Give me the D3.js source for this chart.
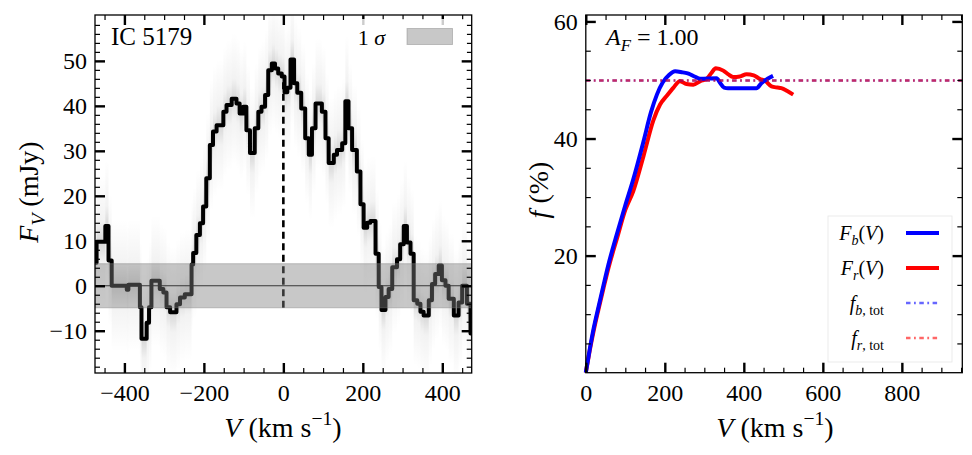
<!DOCTYPE html>
<html lang="en">
<head>
<meta charset="UTF-8">
<title>IC 5179</title>
<script src="https://d3js.org/d3.v7.min.js"></script>
<style>
  body { margin: 0; background: #fff; }
</style>
</head>
<body>
<script>
// ---- data ----
// left panel: step spectrum, left edge of each channel (km/s) and flux (mJy)
var specVel = [-474, -470, -448, -440, -432, -394, -390, -361, -357, -344, -338, -332, -311, -302,
  -294, -285, -269, -260, -248, -231, -227, -219, -210, -202, -194, -185, -177, -168, -151, -143,
  -130, -118, -110, -101, -93, -84, -72, -63, -55, -46, -38, -29, -21, -13, -4, 3, 10, 18, 27,
  35, 45, 55, 64, 72, 81, 97, 106, 114, 127, 135, 148, 156, 164, 173, 185, 194, 202, 211, 219,
  232, 240, 247, 257, 265, 274, 286, 294, 303, 311, 320, 328, 337, 345, 353, 366, 374, 382, 391,
  399, 408, 416, 429, 441, 450, 462, 471];
var specFlux = [5.1, 9.8, 13.3, 5.6, 0.0, -0.9, 0.2, -4.8, -11.8, -8.2, -4.8, 1.1, -0.7, -1.5,
  -4.8, -5.9, -4.1, -2.6, -1.9, 4.7, 7.3, 11.3, 13.9, 17.6, 23.9, 31.3, 34.3, 35.7, 38.7, 40.2,
  41.6, 40.5, 38.3, 39.8, 34.6, 29.5, 35.0, 38.7, 39.8, 42.4, 47.9, 49.4, 48.3, 47.2, 46.5, 43.0,
  44.0, 50.3, 45.0, 42.9, 39.4, 32.8, 29.1, 35.0, 40.5, 38.7, 32.8, 27.3, 29.1, 30.2, 31.7, 41.0,
  35.0, 30.2, 25.4, 18.1, 12.9, 14.0, 14.4, 7.1, -0.3, -5.4, -2.5, -0.7, 4.1, 5.9, 9.2, 13.3, 9.6,
  7.1, -3.2, -4.0, -5.8, -6.6, -3.2, 0.4, 2.6, 4.5, 1.2, 0.0, -2.9, -6.6, -3.7, 0.0, -4.0, -10.6];
var specEnd = 476;
var sigmaNoise = 4.9;
var galaxy = 'IC 5179';

// right panel: cumulative fractions
var velB = [0, 10, 20, 32, 45, 57, 80, 100, 120, 146, 165, 180, 195, 210, 226, 245, 260, 275, 290,
  331, 340, 350, 360, 432, 445, 460, 474];
var fracB = [0, 4.0, 7.6, 11.2, 15.0, 18.4, 24.0, 28.6, 33.0, 39.5, 44.5, 47.5, 49.6, 50.8, 51.5,
  51.3, 51.1, 50.6, 50.2, 50.3, 49.5, 48.7, 48.6, 48.6, 49.5, 50.2, 50.7];
var velR = [0, 10, 20, 32, 45, 57, 80, 100, 120, 146, 171, 188, 205, 222, 238, 255, 272, 290, 306,
  318, 329, 348, 360, 373, 390, 407, 425, 440, 455, 470, 485, 495, 510, 525];
var fracR = [0, 3.8, 7.2, 10.8, 14.5, 17.8, 23.2, 27.8, 31.0, 37.0, 43.1, 45.8, 47.3, 48.7, 49.8,
  49.3, 49.2, 49.8, 50.2, 51.2, 52.0, 51.6, 51.0, 50.5, 50.6, 51.0, 50.8, 50.2, 49.8, 48.9, 48.7,
  48.6, 48.1, 47.5];
var fTotB = 49.9;
var fTotR = 49.9;
var asymText = '1.00';

var serif = '"Liberation Serif", "DejaVu Serif", serif';
var W = 972, H = 455;

var svg = d3.select('body').append('svg').attr('width', W).attr('height', H);
var defs = svg.append('defs');

var grad = defs.append('linearGradient').attr('id', 'streak')
  .attr('x1', 0).attr('y1', 0).attr('x2', 0).attr('y2', 1);
grad.append('stop').attr('offset', '0%').attr('stop-color', '#000').attr('stop-opacity', 0);
grad.append('stop').attr('offset', '35%').attr('stop-color', '#000').attr('stop-opacity', 0.05);
grad.append('stop').attr('offset', '50%').attr('stop-color', '#000').attr('stop-opacity', 0.16);
grad.append('stop').attr('offset', '65%').attr('stop-color', '#000').attr('stop-opacity', 0.05);
grad.append('stop').attr('offset', '100%').attr('stop-color', '#000').attr('stop-opacity', 0);

// text with italic / sub / super pieces
function mathText(g, x, y, parts, size, anchor) {
  var t = g.append('text').attr('x', x).attr('y', y)
    .attr('font-family', serif).attr('font-size', size)
    .attr('text-anchor', anchor || 'start').attr('fill', '#000');
  var off = 0;
  parts.forEach(function(p) {
    var s = t.append('tspan').text(p.t);
    var o = p.sub ? 0.25 * size : (p.sup ? -0.42 * size : 0);
    if (o !== off) { s.attr('dy', o - off); off = o; }
    if (p.i) s.attr('font-style', 'italic');
    if (p.sub || p.sup) s.attr('font-size', size * 0.7);
  });
  return t;
}

function drawAxes(g, x, y, o) {
  var x0 = x.range()[0], x1 = x.range()[1], y0 = y.range()[1], y1 = y.range()[0];
  function clean(a) { a.select('.domain').remove(); }
  g.append('g').attr('transform', 'translate(0,' + y1 + ')')
    .call(d3.axisBottom(x).tickValues(o.xMajor).tickSizeInner(-10).tickSizeOuter(0).tickPadding(11))
    .call(clean).attr('class', 'lab');
  g.append('g').attr('transform', 'translate(0,' + y1 + ')')
    .call(d3.axisBottom(x).tickValues(o.xMinor).tickSize(-5).tickFormat('')).call(clean).attr('class', 'minor');
  g.append('g').attr('transform', 'translate(0,' + y0 + ')')
    .call(d3.axisTop(x).tickValues(o.xMajor).tickSize(-10).tickFormat('')).call(clean);
  g.append('g').attr('transform', 'translate(0,' + y0 + ')')
    .call(d3.axisTop(x).tickValues(o.xMinor).tickSize(-5).tickFormat('')).call(clean).attr('class', 'minor');
  g.append('g').attr('transform', 'translate(' + x0 + ',0)')
    .call(d3.axisLeft(y).tickValues(o.yMajor).tickSizeInner(-10).tickSizeOuter(0).tickPadding(8))
    .call(clean).attr('class', 'lab');
  g.append('g').attr('transform', 'translate(' + x0 + ',0)')
    .call(d3.axisLeft(y).tickValues(o.yMinor).tickSize(-5).tickFormat('')).call(clean).attr('class', 'minor');
  g.append('g').attr('transform', 'translate(' + x1 + ',0)')
    .call(d3.axisRight(y).tickValues(o.yMajor).tickSize(-10).tickFormat('')).call(clean);
  g.append('g').attr('transform', 'translate(' + x1 + ',0)')
    .call(d3.axisRight(y).tickValues(o.yMinor).tickSize(-5).tickFormat('')).call(clean).attr('class', 'minor');
  g.selectAll('.tick line').attr('stroke', '#000').attr('stroke-width', 2.4);
  g.selectAll('.minor .tick line').attr('stroke-width', 1.2);
  g.selectAll('.lab text').attr('font-family', serif).attr('font-size', 24).attr('fill', '#000');
  g.append('rect').attr('x', x0).attr('y', y0).attr('width', x1 - x0).attr('height', y1 - y0)
    .attr('fill', 'none').attr('stroke', '#000').attr('stroke-width', 1.3);
}

// ================= left panel =================
var xL = d3.scaleLinear().domain([-474, 474]).range([95, 471.7]);
var yL = d3.scaleLinear().domain([-19.4, 60.2]).range([373, 15]);
var gL = svg.append('g');

defs.append('clipPath').attr('id', 'clipL').append('rect')
  .attr('x', 95).attr('y', 15).attr('width', 376.7).attr('height', 358);

var steps = specVel.map(function(v, i) {
  return { v0: v, v1: i < specVel.length - 1 ? specVel[i + 1] : specEnd, f: specFlux[i] };
});

var plotL = gL.append('g').attr('clip-path', 'url(#clipL)');

// faint realisations around each channel
plotL.selectAll('rect.streak').data(steps).enter().append('rect')
  .attr('class', 'streak')
  .attr('x', function(d) { return xL(d.v0); })
  .attr('width', function(d) { return xL(d.v1) - xL(d.v0); })
  .attr('y', function(d) { return yL(d.f + 3 * sigmaNoise); })
  .attr('height', function(d) { return yL(d.f - 3 * sigmaNoise) - yL(d.f + 3 * sigmaNoise); })
  .attr('fill', 'url(#streak)');

// zero line
plotL.append('line').attr('x1', xL(-474)).attr('x2', xL(474))
  .attr('y1', yL(0)).attr('y2', yL(0)).attr('stroke', '#000').attr('stroke-width', 1.2);

// dashed line at V = 0 up to the spectrum
var iZero = d3.bisectRight(specVel, 0) - 1;
plotL.append('line').attr('x1', xL(0)).attr('x2', xL(0))
  .attr('y1', yL(-sigmaNoise)).attr('y2', yL(specFlux[iZero]))
  .attr('stroke', '#000').attr('stroke-width', 2.6).attr('stroke-dasharray', '7,4.5');

var stepPts = specVel.map(function(v, i) { return [v, specFlux[i]]; });
stepPts.push([specEnd, specFlux[specFlux.length - 1]]);
plotL.append('path').datum(stepPts)
  .attr('d', d3.line().x(function(d) { return xL(d[0]); }).y(function(d) { return yL(d[1]); })
    .curve(d3.curveStepAfter))
  .attr('fill', 'none').attr('stroke', '#000').attr('stroke-width', 4)
  .attr('stroke-linejoin', 'round');

// 1 sigma band on top
plotL.append('rect').attr('x', xL(-474)).attr('width', xL(474) - xL(-474))
  .attr('y', yL(sigmaNoise)).attr('height', yL(-sigmaNoise) - yL(sigmaNoise))
  .attr('fill', '#808080').attr('fill-opacity', 0.43)
  .attr('stroke', '#808080').attr('stroke-opacity', 0.43).attr('stroke-width', 1);

drawAxes(gL, xL, yL, {
  xMajor: [-400, -200, 0, 200, 400],
  xMinor: d3.range(-450, 451, 50).filter(function(v) { return v % 200 !== 0; }),
  yMajor: [-10, 0, 10, 20, 30, 40, 50],
  yMinor: d3.range(-18, 61, 2).filter(function(v) { return v % 10 !== 0; })
});

// legend
gL.append('rect').attr('x', 350).attr('y', 19).attr('width', 117).attr('height', 38)
  .attr('fill', '#fff').attr('fill-opacity', 0.8);
gL.append('rect').attr('x', 407).attr('y', 28.5).attr('width', 45.5).attr('height', 16)
  .attr('fill', '#808080').attr('fill-opacity', 0.43)
  .attr('stroke', '#808080').attr('stroke-opacity', 0.43).attr('stroke-width', 1);
mathText(gL, 385, 45, [{ t: '1 ' }, { t: 'σ', i: true }], 22, 'end');

gL.append('text').attr('x', 111).attr('y', 45).attr('font-family', serif)
  .attr('font-size', 25).text(galaxy);

mathText(gL, 283, 437, [{ t: 'V', i: true }, { t: ' (km s' }, { t: '−1', sup: true }, { t: ')' }], 28, 'middle');
mathText(gL, 0, 0, [{ t: 'F', i: true }, { t: 'V', i: true, sub: true }, { t: ' (mJy)' }], 28, 'middle')
  .attr('transform', 'translate(38,192) rotate(-90)');

// ================= right panel =================
var xR = d3.scaleLinear().domain([0, 953]).range([585.8, 962.3]);
var yR = d3.scaleLinear().domain([0, 61.1]).range([372.7, 15]);
var gR = svg.append('g');

var lineR = d3.line().x(function(d) { return xR(d[0]); }).y(function(d) { return yR(d[1]); })
  .curve(d3.curveMonotoneX);

gR.append('path').datum(velR.map(function(v, i) { return [v, fracR[i]]; }))
  .attr('d', lineR).attr('fill', 'none').attr('stroke', '#ff0000').attr('stroke-width', 4)
  .attr('stroke-linejoin', 'round');
gR.append('path').datum(velB.map(function(v, i) { return [v, fracB[i]]; }))
  .attr('d', lineR).attr('fill', 'none').attr('stroke', '#0000ff').attr('stroke-width', 4)
  .attr('stroke-linejoin', 'round');

var dashDot = '4.5,3.5,1.8,3.5';
[[fTotB, '#0000ff'], [fTotR, '#ff0000']].forEach(function(d) {
  gR.append('line').attr('x1', xR(0)).attr('x2', xR(953))
    .attr('y1', yR(d[0])).attr('y2', yR(d[0]))
    .attr('stroke', d[1]).attr('stroke-opacity', 0.6).attr('stroke-width', 2.6)
    .attr('stroke-dasharray', dashDot);
});

drawAxes(gR, xR, yR, {
  xMajor: [0, 200, 400, 600, 800],
  xMinor: d3.range(50, 951, 50).filter(function(v) { return v % 200 !== 0; }),
  yMajor: [20, 40, 60],
  yMinor: d3.range(5, 61, 5).filter(function(v) { return v % 20 !== 0; })
});

mathText(gR, 606, 45, [{ t: 'A', i: true }, { t: 'F', i: true, sub: true }, { t: ' = ' + asymText }], 24, 'start');

// legend
gR.append('rect').attr('x', 828).attr('y', 216).attr('width', 124).attr('height', 146)
  .attr('fill', '#fff').attr('fill-opacity', 0.8).attr('stroke', '#e6e6e6').attr('stroke-width', 0.8);
var legItems = [
  { parts: [{ t: 'F', i: true }, { t: 'b', i: true, sub: true }, { t: '(' }, { t: 'V', i: true }, { t: ')' }],
    color: '#0000ff', dash: null, y: 233, size: 20 },
  { parts: [{ t: 'F', i: true }, { t: 'r', i: true, sub: true }, { t: '(' }, { t: 'V', i: true }, { t: ')' }],
    color: '#ff0000', dash: null, y: 268, size: 20 },
  { parts: [{ t: 'f', i: true }, { t: 'b', i: true, sub: true }, { t: ', tot', sub: true }],
    color: '#0000ff', dash: dashDot, y: 303, size: 20 },
  { parts: [{ t: 'f', i: true }, { t: 'r', i: true, sub: true }, { t: ', tot', sub: true }],
    color: '#ff0000', dash: dashDot, y: 338, size: 20 }
];
legItems.forEach(function(d) {
  mathText(gR, 884, d.y + 7, d.parts, d.size, 'end');
  gR.append('line').attr('x1', 906).attr('x2', 939).attr('y1', d.y).attr('y2', d.y)
    .attr('stroke', d.color)
    .attr('stroke-width', d.dash ? 2.6 : 4)
    .attr('stroke-opacity', d.dash ? 0.6 : 1)
    .attr('stroke-dasharray', d.dash);
});

mathText(gR, 775, 437, [{ t: 'V', i: true }, { t: ' (km s' }, { t: '−1', sup: true }, { t: ')' }], 28, 'middle');
mathText(gR, 0, 0, [{ t: 'f', i: true }, { t: ' (%)' }], 28, 'middle')
  .attr('transform', 'translate(548,190) rotate(-90)');
</script>
</body>
</html>
